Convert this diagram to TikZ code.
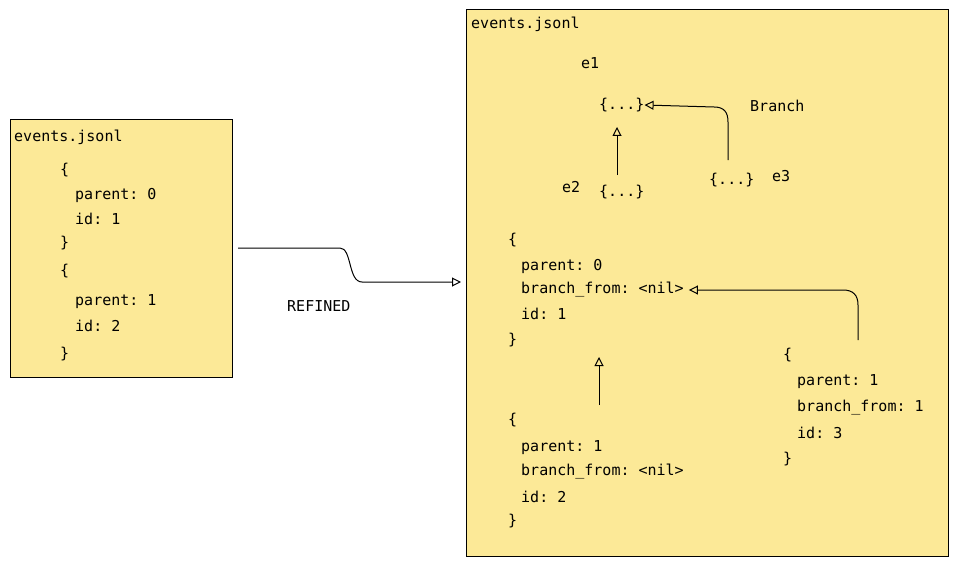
\documentclass[tikz,border=0pt]{standalone}
\usepackage{fontspec}
\setmonofont{DejaVu Sans Mono}
\usetikzlibrary{arrows.meta}
\definecolor{notefill}{HTML}{FCE997}
\tikzset{
  box/.style={draw, fill=notefill, line width=1pt},
  code/.style={anchor=west, inner sep=0pt, font=\fontsize{15}{15}\selectfont\ttfamily},
  link/.style={draw, line width=1pt, -{Triangle[open, length=9pt, width=9pt]}}
}
\begin{document}
\begin{tikzpicture}[x=1pt, y=-1pt]
\useasboundingbox (0,0) rectangle (958,567);
% left file
\draw[box] (10,120) rectangle (232,377);
\node[code] (lt) at (14,137) {events.jsonl};
\node[code] (la) at (60,170) {\{};
\node[code] at (75,195) {parent: 0};
\node[code] at (75,219) {id: 1};
\node[code] at (60,243) {\}};
\node[code] at (60,271) {\{};
\node[code] at (75,302) {parent: 1};
\node[code] at (75,326) {id: 2};
\node[code] at (60,354) {\}};
% right file
\draw[box] (466,10) rectangle (948,556);
\node[code] (rt) at (471,24) {events.jsonl};
\node[code] (e1) at (581,63) {e1};
\node[code] (n1) at (599,105) {\{...\}};
\node[code] (br) at (750,106) {Branch};
\node[code] (e2) at (562,187) {e2};
\node[code] (n2) at (599,192) {\{...\}};
\node[code] (n3) at (709,180) {\{...\}};
\node[code] (e3) at (772,176) {e3};
% first event
\node[code] at (508,240) {\{};
\node[code] at (521,266) {parent: 0};
\node[code] (b1) at (521,290) {branch\_from: <nil>};
\node[code] at (521,314) {id: 1};
\node[code] at (508,340) {\}};
% second event
\node[code] at (508,420) {\{};
\node[code] at (521,448) {parent: 1};
\node[code] at (521,472) {branch\_from: <nil>};
\node[code] at (521,497) {id: 2};
\node[code] at (508,521) {\}};
% third event
\node[code] (c3) at (783,355) {\{};
\node[code] at (797,382) {parent: 1};
\node[code] at (797,408) {branch\_from: 1};
\node[code] at (797,433) {id: 3};
\node[code] at (783,459) {\}};
\node[code] (rf) at (287,306) {REFINED};
% connectors
\coordinate (s0) at (238,248);
\coordinate (t0) at (461,282);
\draw[link] (s0) -- (340,248) .. controls (352,248) and (348,282) .. (362,282) -- (t0);
\coordinate (u1) at (617,175);
\coordinate (v1) at (617,127);
\draw[link] (u1) -- (v1);
\coordinate (u2) at (728,160);
\draw[link] (u2) -- (728,122) .. controls (728,112) and (724,107) .. (714,107) -- (n1.east);
\coordinate (u3) at (599,405);
\coordinate (v3) at (599,357);
\draw[link] (u3) -- (v3);
\coordinate (u4) at (858,340);
\draw[link] (u4) -- (858,305) .. controls (858,295) and (853,290) .. (843,290) -- ([xshift=5pt]b1.east);
\end{tikzpicture}
\end{document}
